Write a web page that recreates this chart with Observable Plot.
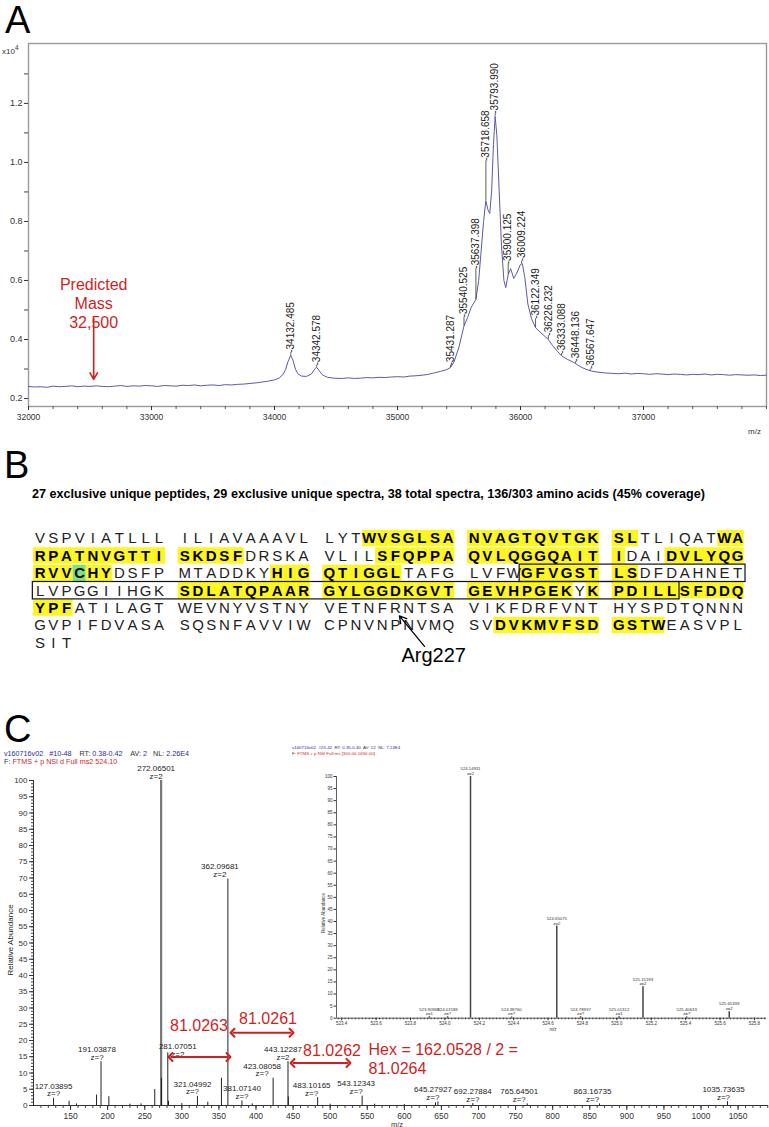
<!DOCTYPE html>
<html><head><meta charset="utf-8">
<script src="https://cdn.jsdelivr.net/npm/d3@7"></script>
<script src="https://cdn.jsdelivr.net/npm/@observablehq/plot@0.6"></script>
<style>
html,body{margin:0;padding:0;background:#fff;}
#root{position:relative;width:769px;height:1127px;overflow:hidden;background:#fff;}
#root svg{position:absolute;left:0;overflow:visible;}
</style></head>
<body><div id="root"></div>
<script>
// ================= DATA =================
// Panel A – deconvoluted intact mass spectrum (mass, intensity x10^4)
const A_mz = [32000,32050,32100,32150,32200,32250,32300,32350,32400,32450,32500,32550,32600,32650,32700,32750,32800,32850,32900,32950,
  33000,33050,33100,33150,33200,33250,33300,33350,33400,33450,33500,33550,33600,33650,33700,33750,33800,33850,33900,33950,
  34000,34040,34070,34090,34110,34132,34150,34170,34190,34220,34260,34300,34330,34342,34360,34390,34430,34480,34550,34600,
  34650,34700,34750,34800,34850,34900,34950,35000,35050,35100,35150,35200,35250,35300,35350,35400,35431,35460,35500,35540,
  35570,35600,35637,35660,35680,35700,35718,35735,35750,35765,35780,35794,35808,35825,35845,35865,35880,35900,35920,35945,
  35970,36000,36015,36035,36060,36090,36122,36160,36200,36226,36260,36300,36333,36380,36420,36448,36500,36540,36567,36620,
  36680,36750,36800,36850,36900,36950,37000,37050,37100,37150,37200,37250,37300,37350,37400,37450,37500,37550,37600,37650,
  37700,37750,37800,37850,37900,37950,38000];
const A_int = [0.241,0.239,0.240,0.238,0.242,0.240,0.241,0.243,0.240,0.242,0.241,0.243,0.241,0.240,0.242,0.244,0.241,0.243,0.242,0.244,
  0.243,0.241,0.244,0.243,0.242,0.245,0.244,0.246,0.243,0.245,0.246,0.244,0.247,0.246,0.248,0.249,0.251,0.253,0.256,0.259,
  0.263,0.270,0.282,0.298,0.325,0.347,0.330,0.300,0.284,0.276,0.275,0.283,0.302,0.306,0.296,0.280,0.272,0.269,0.268,0.270,
  0.268,0.269,0.271,0.270,0.272,0.271,0.273,0.274,0.273,0.276,0.277,0.279,0.282,0.287,0.292,0.298,0.305,0.325,0.375,0.445,
  0.475,0.510,0.535,0.600,0.700,0.800,0.871,0.840,0.827,0.900,1.060,1.156,1.090,0.920,0.720,0.600,0.576,0.620,0.640,0.607,
  0.625,0.655,0.657,0.610,0.520,0.470,0.440,0.425,0.410,0.400,0.380,0.360,0.345,0.333,0.325,0.318,0.305,0.298,0.294,0.290,
  0.287,0.285,0.284,0.286,0.283,0.285,0.284,0.282,0.284,0.283,0.281,0.283,0.282,0.280,0.282,0.281,0.283,0.280,0.282,0.281,
  0.279,0.281,0.280,0.279,0.280,0.278,0.279];
const A_peakLabel = ["34132.485","34342.578","35431.287","35540.525","35637.398","35718.658","35793.990","35900.125","36009.224",
  "36122.349","36226.232","36333.088","36448.136","36567.647"];
const A_peakMz   = [34132.485,34342.578,35431.287,35540.525,35637.398,35718.658,35793.990,35900.125,36009.224,36122.349,36226.232,36333.088,36448.136,36567.647];
const A_peakTop  = [0.347,0.306,0.305,0.445,0.535,0.871,1.156,0.620,0.657,0.440,0.400,0.345,0.318,0.294];
const A_labelTop = [0.355,0.312,0.312,0.475,0.640,1.005,1.165,0.655,0.665,0.470,0.413,0.352,0.325,0.300];
const A_xTicks = [32000,33000,34000,35000,36000,37000];
const A_yTicks = [0.2,0.4,0.6,0.8,1.0,1.2];
const A_predictedMass = 32530;
const A_predictedText = "Predicted\nMass\n32,500";

// Panel B – sequence coverage
const B_rows = [
  "VSPVIATLLLILIAVAAAVLLYTWVSGLSANVAGTQVTGKSLTLIQATWA",
  "RPATNVGTTISKDSFDRSKAVLILSFQPPAQVLQGGQAITIDAIDVLYQG",
  "RVVCHYDSFPMTADDKYHIGQTIGGLTAFGLVFWGFVGSTLSDFDAHNET",
  "LVPGGIIHGKSDLATQPAARGYLGGDKGVTGEVHPGEKYKPDILLSFDDQ",
  "YPFATILAGTWEVNYVSTNYVETNFRNTSAVIKFDRFVNTHYSPDTQNNN",
  "GVPIFDVASASQSNFAVVIWCPNVNPNVMQSVDVKMVFSDGSTWEASVPL",
  "SIT"];
const B_covered = [[24,42],[49,65],[75,91],[95,106],[118,126],[135,142],[161,188],[190,203],[283,294]];
const B_modified = [104];
const B_boxed = [[135,195]];
const B_pointerResidue = 226;
const B_pointerLabel = "Arg227";
const B_header = "27 exclusive unique peptides, 29 exclusive unique spectra, 38 total spectra, 136/303 amino acids (45% coverage)";

// Panel C – MS2 spectrum of 524.10 (m/z, relative abundance)
const C_mz  = [127.039,148,158,185,191.039,201.6,230,245,263.5,272.065,272.57,281.071,282,300,321.05,335,353.4,362.097,381.071,395,423.081,443.123,443.62,483.102,500,543.123,560,600,642,645.279,692.279,765.645,863.167,1035.736];
const C_int = [2.2,1.3,0.5,3.2,13.5,2.7,0.4,0.5,4.9,100,8.4,16.2,1.3,0.6,2.8,1.0,8.4,69.7,1.4,0.5,8.4,13.5,2.6,2.4,0.4,2.9,0.4,0.3,0.8,1.1,0.6,0.5,0.5,1.2];
const C_labelMz  = [127.03895,191.03878,272.06501,281.07051,321.04992,362.09681,381.07140,423.08058,443.12287,483.10165,543.12343,645.27927,692.27884,765.64501,863.16735,1035.73635];
const C_labelText = ["127.03895","191.03878","272.06501","281.07051","321.04992","362.09681","381.07140","423.08058","443.12287","483.10165","543.12343","645.27927","692.27884","765.64501","863.16735","1035.73635"];
const C_labelInt = [2.2,13.5,100,16.2,2.8,69.7,1.4,8.4,13.5,2.4,2.9,1.1,0.6,0.5,0.5,1.2];
const C_labelZ   = ["z=?","z=?","z=2","z=2","z=?","z=2","z=?","z=?","z=2","z=?","z=?","z=?","z=?","z=?","z=?","z=?"];
const C_xTicks = [150,200,250,300,350,400,450,500,550,600,650,700,750,800,850,900,950,1000,1050];
const C_yTicks = [0,5,10,15,20,25,30,35,40,45,50,55,60,65,70,75,80,85,90,95,100];
const C_notes = [
  {text:"81.0263", mz:323.1, y:24.6, anchor:"middle"},
  {text:"81.0261", mz:416.2, y:26.8, anchor:"middle"},
  {text:"81.0262", mz:502.5, y:16.9, anchor:"middle"},
  {text:"Hex = 162.0528 / 2 =\n81.0264", mz:551.7, y:14.6, anchor:"start"}];
const C_spans = [{from:368.3, to:447.9, y:22.4},{from:284.7, to:362.9, y:14.9},{from:449.2, to:524.7, y:13.1}];

// Inset – full MS of precursor
const I_mz  = [523.90968,524.01589,524.14911,524.38760,524.65075,524.78937,525.01312,525.15193,525.40633,525.65339];
const I_int = [0.6,0.6,100,0.5,38,0.6,0.6,13,0.5,2.7];
const I_z   = ["z=1","z=?","z=2","z=?","z=2","z=?","z=1","z=2","z=?","z=2"];
const I_xTicks = [523.4,523.6,523.8,524.0,524.2,524.4,524.6,524.8,525.0,525.2,525.4,525.6,525.8];
const I_yTicks = [0,5,10,15,20,25,30,35,40,45,50,55,60,65,70,75,80,85,90,95,100];

// ================= LAYOUT / STYLE =================
const FONT = "'Liberation Sans', Arial, sans-serif";
const RED = "#d01f1f";
const BLUE = "#2b2b9a";
const root = document.getElementById("root");
function put(svg, top){ svg.style.top = top + "px"; root.appendChild(svg); }
const blank = () => "";

// ---------- Panel A ----------
const aData = A_mz.map((mz,i)=>({mz, v:A_int[i]}));
const aPeaks = A_peakMz.map((mz,i)=>({mz, v:A_peakTop[i], top:A_labelTop[i], label:"-"+A_peakLabel[i]}));
const aPred = [{mz:A_predictedMass, text:A_predictedText, ty:0.525, y1:0.47, y2:0.265}];
const plotA = Plot.plot({
  width:769, height:440, marginTop:43, marginRight:3, marginBottom:34, marginLeft:28,
  style:{fontFamily:FONT, fontSize:"9px", color:"#222", background:"transparent"},
  x:{domain:[32000,38000]},
  y:{domain:[0.173,1.403]},
  marks:[
    Plot.frame({stroke:"#9a9a9a", strokeWidth:1.4}),
    Plot.axisY(d3.range(0.3,1.4,0.2), {tickSize:4, tickFormat:blank, label:null, color:"#444"}),
    Plot.axisY(A_yTicks, {tickSize:4, tickPadding:2, tickFormat:d=>d.toFixed(1), label:null, color:"#333", fontSize:9}),
    Plot.axisX(d3.range(32000,38001,200), {tickSize:3, tickFormat:blank, label:null, color:"#555"}),
    Plot.axisX(A_xTicks, {tickSize:4, tickPadding:3, tickFormat:d=>String(d), label:null, color:"#333", fontSize:8.5}),
    Plot.line(aData, {x:"mz", y:"v", stroke:"#5a5aae", strokeWidth:1}),
    Plot.ruleX(aPeaks, {x:"mz", y1:"v", y2:"top", stroke:"#333", strokeWidth:0.8}),
    Plot.text(aPeaks, {x:"mz", y:"top", text:"label", rotate:-90, textAnchor:"start", fontSize:10, fill:"#222"}),
    Plot.text(aPred, {x:"mz", y:"ty", text:"text", fill:RED, fontSize:16, lineHeight:1.18}),
    Plot.arrow(aPred, {x1:"mz", x2:"mz", y1:"y1", y2:"y2", stroke:RED, strokeWidth:1.6, headLength:7})
  ]
});
put(plotA, 0);

// ---------- Panel B ----------
const B_BLOCK = 10.96;          // slot pitch of a block of ten residues (letters + gap)
const inRanges = (k, ranges) => ranges.some(([a,b]) => k >= a && k <= b);
const slotOf = k => { const c = (k-1) % 50; return Math.floor(c/10)*B_BLOCK + (c%10) + 0.5; };
const rowOf = k => Math.floor((k-1)/50);
const seq = B_rows.join("");
const bCells = Array.from(seq, (aa, j) => {
  const k = j + 1;
  return {k, aa, s:slotOf(k), r:rowOf(k), hl:inRanges(k, B_covered), mod:B_modified.includes(k)};
});
const bBoxes = [];
for (const [a,b] of B_boxed) {
  for (let r = rowOf(a); r <= rowOf(b); r++) {
    const k1 = Math.max(a, r*50+1), k2 = Math.min(b, r*50+50);
    bBoxes.push({r, s1:slotOf(k1)-0.55, s2:slotOf(k2)+0.6});
  }
}
const pS = slotOf(B_pointerResidue), pR = rowOf(B_pointerResidue);
const bPointer = [{s:pS+2.9, r:pR+2.75, text:B_pointerLabel, x1:pS+2.2, y1:pR+2.2, x2:pS+0.3, y2:pR+0.45}];
const plotB = Plot.plot({
  width:769, height:175, margin:0,
  style:{fontFamily:FONT, background:"transparent"},
  x:{domain:[0,54], range:[33,745.8], axis:null},
  y:{domain:[-0.5,6.5], range:[29.3,151.1], axis:null},
  marks:[
    Plot.rect(bCells.filter(d=>d.hl), {x1:d=>d.s-0.5, x2:d=>d.s+0.5, y1:d=>d.r-0.47, y2:d=>d.r+0.47, fill:d=>d.mod?"#7ee07e":"#fdf51f"}),
    Plot.rect(bBoxes, {x1:"s1", x2:"s2", y1:d=>d.r-0.5, y2:d=>d.r+0.5, fill:"none", stroke:"#111", strokeWidth:1.2}),
    Plot.text(bCells.filter(d=>!d.hl), {x:"s", y:"r", text:"aa", fontSize:15, fill:"#222"}),
    Plot.text(bCells.filter(d=>d.hl), {x:"s", y:"r", text:"aa", fontSize:15, fontWeight:"bold", fill:"#000"}),
    Plot.arrow(bPointer, {x1:"x1", y1:"y1", x2:"x2", y2:"y2", stroke:"#000", strokeWidth:1.3, headLength:9}),
    Plot.text(bPointer, {x:"s", y:"r", text:"text", fontSize:20, fill:"#000"})
  ]
});
put(plotB, 500);

// ---------- Panel C (main MS2) ----------
const cData = C_mz.map((mz,i)=>({mz, i:C_int[i]}));
const C_nudge = {"272.06501":[-5,0],"281.07051":[10,6],"321.04992":[-5,0],"362.09681":[-8,0],"191.03878":[-4,0],
  "423.08058":[-11,0],"443.12287":[-5,0],"483.10165":[-6,0],"543.12343":[-6,0],"645.27927":[-5,0],"765.64501":[-8,0],"863.16735":[-7,0],"1035.73635":[-4,0]};
const cLabels = C_labelMz.map((mz,i)=>{
  const key = C_labelText[i];
  const n = C_nudge[key] || [0,0];
  return {mz, i:C_labelInt[i], text:key + "\n" + C_labelZ[i], dx:n[0], dy:n[1]};
});
const plotC = Plot.plot({
  width:769, height:427, marginTop:80, marginRight:1, marginBottom:22, marginLeft:33,
  style:{fontFamily:FONT, fontSize:"8px", color:"#222", background:"transparent"},
  x:{domain:[100,1091]},
  y:{domain:[0,100]},
  marks:[
    Plot.axisY(d3.range(0,101,1), {tickSize:2, tickFormat:blank, label:null, color:"#444"}),
    Plot.axisY(C_yTicks, {tickSize:4, tickPadding:2, tickFormat:d=>String(d), label:null, color:"#333", fontSize:8}),
    Plot.axisX(d3.range(110,1091,10), {tickSize:3, tickFormat:blank, label:null, color:"#444"}),
    Plot.axisX(C_xTicks, {tickSize:5, tickPadding:2, tickFormat:d=>String(d), label:null, color:"#333", fontSize:8.5}),
    Plot.ruleX([100], {stroke:"#333"}),
    Plot.ruleY([0], {stroke:"#333"}),
    Plot.ruleX(cData, {x:"mz", y1:0, y2:"i", stroke:d=>d.i>90?"#777":"#222", strokeWidth:d=>d.i>90?2.2:1}),
    ...cLabels.map(d => Plot.text([d], {x:"mz", y:"i", text:"text", dx:d.dx, dy:d.dy-2, lineAnchor:"bottom", lineHeight:0.95, fontSize:8, fill:"#222"})),
    Plot.link(C_spans, {x1:"from", x2:"to", y1:"y", y2:"y", stroke:RED, strokeWidth:2, markerStart:"arrow-reverse", markerEnd:"arrow"}),
    Plot.text(C_notes.filter(d=>d.anchor==="middle"), {x:"mz", y:"y", text:"text", fill:RED, fontSize:16}),
    Plot.text(C_notes.filter(d=>d.anchor==="start"), {x:"mz", y:"y", text:"text", fill:RED, fontSize:16, textAnchor:"start", lineHeight:1.2})
  ]
});
put(plotC, 700);

// ---------- Inset ----------
const iData = I_mz.map((mz,i)=>({mz, i:I_int[i], text:mz.toFixed(5)+"\n"+I_z[i]}));
const plotI = Plot.plot({
  width:769, height:300, marginTop:36, marginRight:3, marginBottom:22.3, marginLeft:336,
  style:{fontFamily:FONT, fontSize:"4.5px", color:"#333", background:"transparent"},
  x:{domain:[523.37,525.87]},
  y:{domain:[0,100]},
  marks:[
    Plot.axisY(I_yTicks, {tickSize:2.5, tickPadding:1.5, tickFormat:d=>String(d), label:null, fontSize:4.5, color:"#333"}),
    Plot.axisX(d3.range(523.38,525.87,0.02), {tickSize:1.6, tickFormat:blank, label:null, color:"#444"}),
    Plot.axisX(I_xTicks, {tickSize:2.5, tickPadding:1.5, tickFormat:d=>d.toFixed(1), label:null, fontSize:4.5, color:"#333"}),
    Plot.ruleX([523.37], {stroke:"#333", strokeWidth:0.8}),
    Plot.ruleY([0], {stroke:"#333", strokeWidth:0.8}),
    Plot.ruleX(iData, {x:"mz", y1:0, y2:"i", stroke:"#444", strokeWidth:1.5}),
    Plot.text(iData, {x:"mz", y:"i", text:"text", lineAnchor:"bottom", dy:-1.5, lineHeight:1.1, fontSize:4.3, fill:"#333"})
  ]
});
put(plotI, 740);

// ---------- Static text overlay ----------
const ov = d3.create("svg").attr("width",769).attr("height",1127).attr("font-family",FONT).style("top","0px").style("pointer-events","none");
const tx = (x,y,s,size,opts={}) => {
  const t = ov.append("text").attr("x",x).attr("y",y).attr("font-size",size).attr("fill",opts.fill||"#000").text(s);
  if (opts.weight) t.attr("font-weight",opts.weight);
  if (opts.anchor) t.attr("text-anchor",opts.anchor);
  if (opts.rotate) t.attr("transform",`rotate(${opts.rotate},${x},${y})`);
  if (opts.len) t.attr("textLength",opts.len).attr("lengthAdjust","spacingAndGlyphs");
  return t;
};
tx(5,33,"A",38); tx(4,478,"B",38); tx(4,742,"C",38);
const x10 = tx(2,54,"x10",8,{fill:"#333"}); x10.append("tspan").attr("dy",-4).attr("font-size",6.5).text("4");
tx(748,434,"m/z",8,{fill:"#333"});
tx(32,498,B_header,13.5,{weight:"bold",len:673});
const h1 = ov.append("text").attr("x",4).attr("y",755.5).attr("font-size",7.2).attr("xml:space","preserve");
[["v160716v02",BLUE],["   ",null],["#10-48",BLUE],["    RT: ","#333"],["0.38-0.42",BLUE],["    AV: ","#333"],["2",BLUE],["   NL: ","#333"],["2.26E4",BLUE]]
  .forEach(([s,c]) => h1.append("tspan").attr("fill",c||"#333").text(s));
const h2 = ov.append("text").attr("x",4).attr("y",763.5).attr("font-size",7.2).attr("xml:space","preserve");
[["F: ","#333"],["FTMS + p NSI d Full ms2 524.10",RED]].forEach(([s,c]) => h2.append("tspan").attr("fill",c).text(s));
tx(13,940,"Relative Abundance",8,{anchor:"middle",rotate:-90,fill:"#222"});
tx(397,1126.5,"m/z",7.5,{anchor:"middle",fill:"#333"});
const i1 = ov.append("text").attr("x",292).attr("y",749).attr("font-size",4.4).attr("xml:space","preserve");
[["v160716v02",BLUE],["  ",null],["#23-42",BLUE],["  RT: ","#333"],["0.35-0.40",BLUE],["  AV: ","#333"],["12",BLUE],["  NL: ","#333"],["7.13E4",BLUE]]
  .forEach(([s,c]) => i1.append("tspan").attr("fill",c||"#333").text(s));
const i2 = ov.append("text").attr("x",292).attr("y",755).attr("font-size",4.4).attr("xml:space","preserve");
[["F: ","#333"],["FTMS + p NSI Full ms [300.00-1650.00]",RED]].forEach(([s,c]) => i2.append("tspan").attr("fill",c).text(s));
tx(325,913,"Relative Abundance",4.5,{anchor:"middle",rotate:-90,fill:"#333"});
tx(553,1031,"m/z",4.5,{anchor:"middle",fill:"#333"});
root.appendChild(ov.node());
</script>
</body></html>
